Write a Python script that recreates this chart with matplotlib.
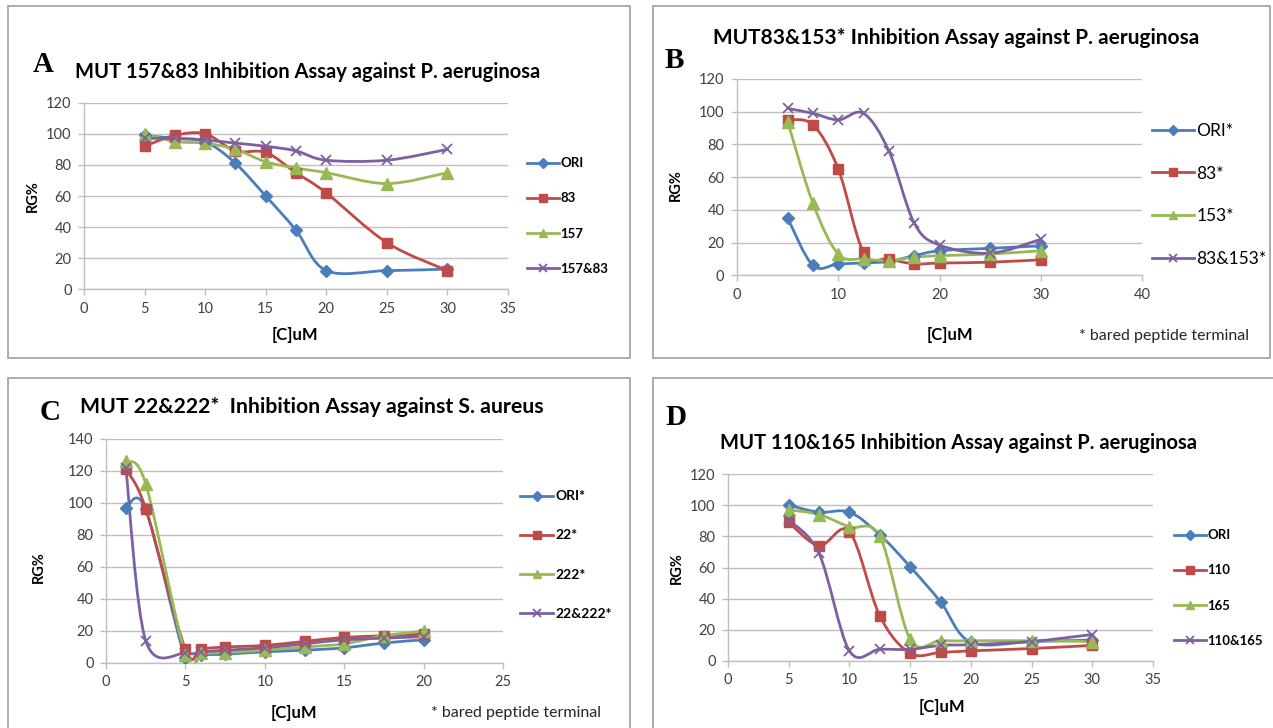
import numpy as np
import matplotlib
matplotlib.use("Agg")
import matplotlib.pyplot as plt
from matplotlib.path import Path
from matplotlib.patches import PathPatch, Rectangle
from matplotlib.lines import Line2D

W, H = 1273, 728

# ---- data ----
conc_a = [5, 7.5, 10, 12.5, 15, 17.5, 20, 25, 30]
ori_a = [99, 97, 95, 81, 60, 38, 12, 12, 13]
m83_a = [92, 99, 100, 89, 88, 75, 62, 30, 12]
m157_a = [100, 95, 94, 90, 82, 78, 75, 68, 75]
m157_83_a = [97, 97, 96, 94, 92, 89, 83, 83, 90]
labels_a = ["ORI", "83", "157", "157&83"]

conc_b = [5, 7.5, 10, 12.5, 15, 17.5, 20, 25, 30]
ori_b = [35, 6, 7, 7.5, 8.5, 12, 15, 16.5, 18]
m83_b = [95, 92, 65, 14, 10, 7, 7.5, 8, 9.5]
m153_b = [94, 44, 13, 10, 9, 11, 12, 13, 15]
m83_153_b = [102, 99, 95, 99, 76, 32, 18.5, 13.5, 22]
labels_b = ["ORI*", "83*", "153*", "83&153*"]

conc_c = [1.25, 2.5, 5, 6, 7.5, 10, 12.5, 15, 17.5, 20]
ori_c = [97, 96, 3, 5, 5.5, 7, 8, 9.5, 12.5, 14.5]
m22_c = [121, 96.5, 8.5, 9, 10, 11, 13.5, 16, 17, 18]
m222_c = [126, 112, 5, 6, 6.5, 8, 10, 12, 17, 20]
m22_222_c = [122, 14, 6, 7, 8, 9.5, 12, 14.5, 15.5, 16.5]
labels_c = ["ORI*", "22*", "222*", "22&222*"]

conc_d = [5, 7.5, 10, 12.5, 15, 17.5, 20, 25, 30]
ori_d = [100, 95.5, 95.5, 81, 60.5, 38, 12, 12.5, 13.5]
m110_d = [89, 74, 83, 29, 5, 5.5, 6.5, 8, 10]
m165_d = [97, 94, 86, 80, 14, 13, 13, 13, 12.5]
m110_165_d = [90.5, 69, 6.5, 7.5, 7.5, 10, 10.5, 12.5, 17]
labels_d = ["ORI", "110", "165", "110&165"]

COLORS = ["#4A7EBB", "#BE4B48", "#98B954", "#7D60A0"]
MARKERS = [("D", 6.5), ("s", 7.5), ("^", 8), ("x", 7.5)]
TICK_COLOR = "#404040"
GRID_COLOR = "#BFBFBF"
BOX_COLOR = "#A6A6A6"

plt.rcParams["font.family"] = ["Lato", "DejaVu Sans"]


def fx(px):
    return px / W


def fy(py):
    return 1 - py / H


def smooth_path(xs, ys):
    # Excel style smoothed line: cubic bezier through every point
    pts = np.column_stack([xs, ys]).astype(float)
    n = len(pts)
    verts = [pts[0]]
    codes = [Path.MOVETO]
    for i in range(n - 1):
        p0 = pts[max(i - 1, 0)]
        p1 = pts[i]
        p2 = pts[i + 1]
        p3 = pts[min(i + 2, n - 1)]
        verts += [p1 + (p2 - p0) / 6, p2 - (p3 - p1) / 6, p2]
        codes += [Path.CURVE4] * 3
    return Path(verts, codes)


def draw_panel(fig, area, xmax, xstep, ymax, x, series, labels, leg, leg_font):
    x0, y0, x1, y1 = area
    ax = fig.add_axes([fx(x0), fy(y1), fx(x1) - fx(x0), fy(y0) - fy(y1)])
    ax.set_xlim(0, xmax)
    ax.set_ylim(0, ymax)
    ax.set_xticks(np.arange(0, xmax + 1, xstep))
    ax.set_yticks(np.arange(0, ymax + 1, 20))
    ax.grid(axis="y", color=GRID_COLOR, lw=1.0)
    ax.set_axisbelow(True)
    for s in ["top", "right"]:
        ax.spines[s].set_visible(False)
    for s in ["left", "bottom"]:
        ax.spines[s].set_color(GRID_COLOR)
        ax.spines[s].set_linewidth(1.0)
    ax.tick_params(colors=GRID_COLOR, labelcolor=TICK_COLOR, labelsize=10.5,
                   length=4, width=1.0, pad=5)
    handles = []
    for ys, col, (mk, ms), lab in zip(series, COLORS, MARKERS, labels):
        ax.add_patch(PathPatch(smooth_path(x, ys), fill=False, edgecolor=col,
                               lw=2.0, capstyle="round", joinstyle="round"))
        mew = 1.3 if mk == "x" else 1.0
        ax.plot(x, ys, ls="none", marker=mk, ms=ms, color=col, mec=col, mew=mew,
                zorder=3)
        handles.append(Line2D([], [], color=col, lw=2.0, marker=mk,
                              ms=ms * 0.8, mew=mew, label=lab))
    lx, ly, spacing = leg
    size, weight = leg_font
    fig.legend(handles=handles, loc="center left",
               bbox_to_anchor=(fx(lx), fy(ly)), bbox_transform=fig.transFigure,
               frameon=False, borderpad=0, borderaxespad=0, handlelength=2.4,
               handletextpad=0.15, labelspacing=spacing, numpoints=1,
               prop={"size": size, "weight": weight})
    return ax


def main():
    fig = plt.figure(figsize=(W / 100, H / 100), dpi=100)
    fig.patch.set_facecolor("white")

    # panel frames
    for bx0, by0, bx1, by1 in [(8, 6, 630, 358), (653, 6, 1270, 358),
                               (8, 378, 630, 740), (653, 378, 1285, 740)]:
        fig.add_artist(Rectangle((fx(bx0), fy(by1)), fx(bx1) - fx(bx0),
                                 fy(by0) - fy(by1), transform=fig.transFigure,
                                 fill=False, edgecolor=BOX_COLOR, lw=1.3))

    # A
    draw_panel(fig, (84, 102.7, 508, 289.3), 35, 5, 120, conc_a,
               [ori_a, m83_a, m157_a, m157_83_a], labels_a,
               (527, 216, 1.75), (9.5, "bold"))
    # B
    draw_panel(fig, (737, 79, 1142, 275.3), 40, 10, 120, conc_b,
               [ori_b, m83_b, m153_b, m83_153_b], labels_b,
               (1152, 195, 1.55), (12.5, "normal"))
    # C
    draw_panel(fig, (106, 439, 503, 663), 25, 5, 140, conc_c,
               [ori_c, m22_c, m222_c, m22_222_c], labels_c,
               (520, 555, 1.95), (10, "bold"))
    # D
    draw_panel(fig, (728, 474, 1153, 661), 35, 5, 120, conc_d,
               [ori_d, m110_d, m165_d, m110_165_d], labels_d,
               (1174, 588, 1.75), (9.5, "bold"))

    # titles
    title_kw = dict(fontweight="bold", va="center", ha="left")
    fig.text(fx(75), fy(72), "MUT 157&83 Inhibition Assay against P. aeruginosa",
             fontsize=14.5, **title_kw)
    fig.text(fx(713), fy(38), "MUT83&153* Inhibition Assay against P. aeruginosa",
             fontsize=15, **title_kw)
    fig.text(fx(80), fy(407), "MUT 22&222*  Inhibition Assay against S. aureus",
             fontsize=15.3, **title_kw)
    fig.text(fx(720), fy(443), "MUT 110&165 Inhibition Assay against P. aeruginosa",
             fontsize=14.5, **title_kw)

    # panel letters
    letter_kw = dict(fontsize=21, fontweight="bold", va="center", ha="left",
                     family="Liberation Serif")
    fig.text(fx(33), fy(64), "A", **letter_kw)
    fig.text(fx(665), fy(61), "B", **letter_kw)
    fig.text(fx(40), fy(413), "C", **letter_kw)
    fig.text(fx(665), fy(418), "D", **letter_kw)

    # axis titles
    ylab_kw = dict(fontsize=10.5, fontweight="bold", rotation=90, va="center", ha="center")
    fig.text(fx(33), fy(196), "RG%", **ylab_kw)
    fig.text(fx(676), fy(185), "RG%", **ylab_kw)
    fig.text(fx(39), fy(567), "RG%", **ylab_kw)
    fig.text(fx(677), fy(568), "RG%", **ylab_kw)

    xlab_kw = dict(fontsize=12, fontweight="bold", va="center", ha="center")
    fig.text(fx(295), fy(335), "[C]uM", **xlab_kw)
    fig.text(fx(950), fy(335), "[C]uM", **xlab_kw)
    fig.text(fx(294), fy(713), "[C]uM", **xlab_kw)
    fig.text(fx(942), fy(707), "[C]uM", **xlab_kw)

    note_kw = dict(fontsize=11.5, va="center", ha="left", color="#262626")
    fig.text(fx(1079), fy(336), "* bared peptide terminal", **note_kw)
    fig.text(fx(431), fy(713), "* bared peptide terminal", **note_kw)

    fig.savefig("out.png", dpi=100)


if __name__ == "__main__":
    main()
